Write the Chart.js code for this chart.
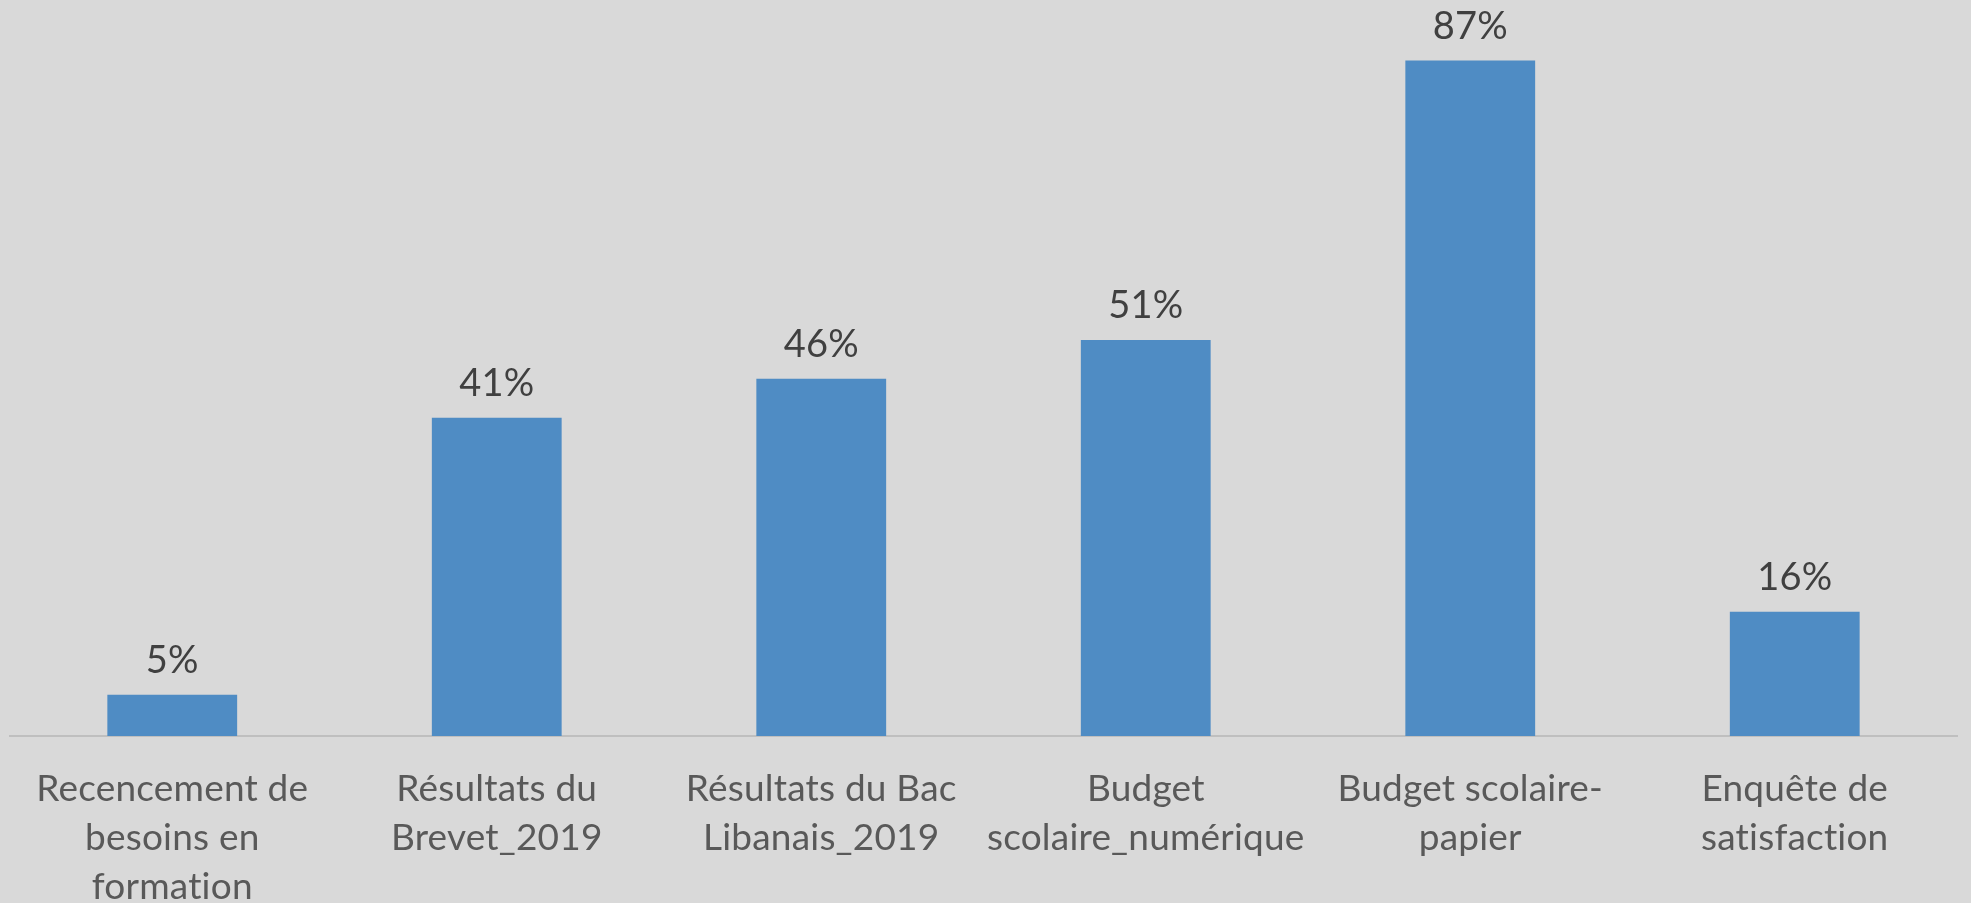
<!DOCTYPE html>
<html>
<head>
<meta charset="utf-8">
<script src="https://cdn.jsdelivr.net/npm/chart.js@4"></script>
<style>
html,body{margin:0;padding:0;background:#d9d9d9;}
#wrap{width:1971px;height:903px;position:relative;}
</style>
</head>
<body>
<div id="wrap"><canvas id="c" width="1971" height="903"></canvas></div>
<script>
const categories = [
  ["Recencement de","besoins en","formation"],
  ["Résultats du","Brevet_2019"],
  ["Résultats du Bac","Libanais_2019"],
  ["Budget","scolaire_numérique"],
  ["Budget scolaire-","papier"],
  ["Enquête de","satisfaction"]
];
const values = [0.053, 0.41, 0.46, 0.51, 0.87, 0.16];
const valueLabels = ["5%","41%","46%","51%","87%","16%"];

const FONT = "Lato, 'Open Sans', sans-serif";

const noLig = {
  id: 'noLig',
  beforeInit(chart) { chart.ctx.letterSpacing = '0.2px'; },
  beforeLayout(chart) { chart.ctx.letterSpacing = '0.2px'; },
  beforeDraw(chart) { chart.ctx.letterSpacing = '0.2px'; }
};

const barLabels = {
  id: 'barLabels',
  afterDatasetsDraw(chart) {
    const ctx = chart.ctx;
    const meta = chart.getDatasetMeta(0);
    ctx.save();
    ctx.font = "38px " + FONT;
    ctx.fillStyle = "#404040";
    ctx.textAlign = "center";
    ctx.textBaseline = "alphabetic";
    meta.data.forEach((bar, i) => {
      ctx.fillText(valueLabels[i], bar.x, bar.y - 22);
    });
    ctx.restore();
  }
};

new Chart(document.getElementById('c'), {
  type: 'bar',
  data: {
    labels: categories,
    datasets: [{
      data: values,
      backgroundColor: '#4f8cc4',
      borderWidth: 0,
      barPercentage: 0.4,
      categoryPercentage: 1.0
    }]
  },
  options: {
    responsive: false,
    animation: false,
    layout: { padding: { left: 10, right: 14, top: 0, bottom: 0 } },
    plugins: { legend: { display: false }, tooltip: { enabled: false } },
    scales: {
      x: {
        grid: { display: false, drawTicks: false },
        border: { display: true, color: '#bfbfbf', width: 2 },
        ticks: {
          color: '#595959',
          font: { family: FONT, size: 37, lineHeight: 1.32 },
          padding: 29,
          maxRotation: 0,
          autoSkip: false
        },
        afterFit(scale) { scale.height = 167; }
      },
      y: {
        display: false,
        min: 0,
        max: 0.948
      }
    }
  },
  plugins: [noLig, barLabels]
});
</script>
</body>
</html>
